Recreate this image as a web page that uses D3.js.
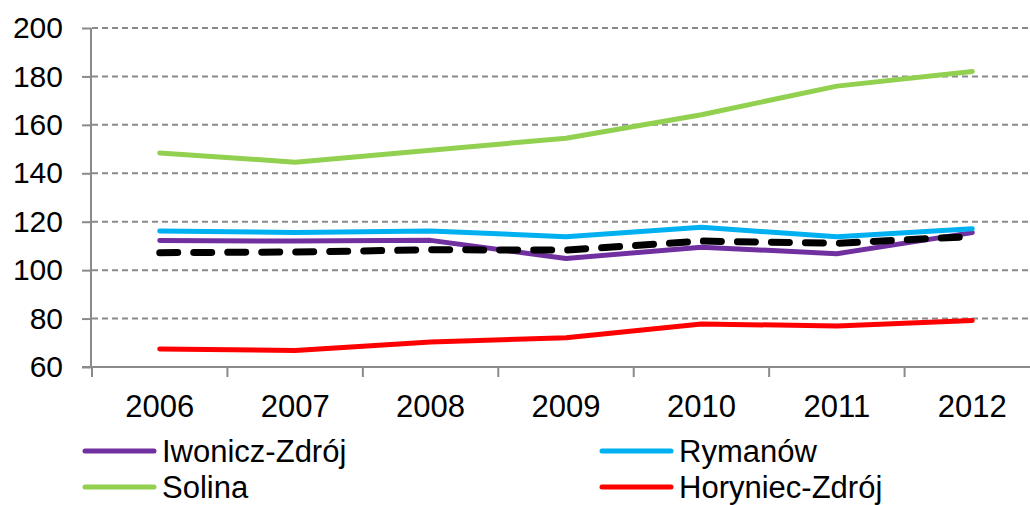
<!DOCTYPE html>
<html>
<head>
<meta charset="utf-8">
<script src="https://cdn.jsdelivr.net/npm/d3@7"></script>
<style>
  body { margin: 0; background: #fff; }
  svg { display: block; font-family: "Liberation Sans", Arial, sans-serif; }
</style>
</head>
<body>
<script>
// data
var years = ["2006", "2007", "2008", "2009", "2010", "2011", "2012"];
var iwonicz = [112.2, 112, 112.3, 104.8, 109.5, 106.8, 115.5];
var rymanow = [116.2, 115.5, 116.2, 113.8, 117.7, 113.8, 117.1];
var solina = [148.4, 144.6, 149.5, 154.5, 164.2, 176, 182];
var horyniec = [67.4, 66.8, 70.3, 72.1, 77.8, 76.9, 79.2];
var srednia = [107.2, 107.5, 108.4, 108.3, 112, 111.1, 113.9];
var yTicks = [60, 80, 100, 120, 140, 160, 180, 200];

var series = [
  {name: "Iwonicz-Zdrój", values: iwonicz, color: "#7030A0"},
  {name: "Rymanów", values: rymanow, color: "#00B0F0"},
  {name: "Solina", values: solina, color: "#92D050"},
  {name: "Horyniec-Zdrój", values: horyniec, color: "#FF0000"},
  {name: "średnia", values: srednia, color: "#000000", dashed: true}
];

var W = 1030, H = 505;
var plotL = 92, plotR = 1040, plotT = 28, plotB = 367;

var svg = d3.select("body").append("svg")
    .attr("width", W)
    .attr("height", H);

var x = d3.scaleBand().domain(years).range([plotL, plotR]).padding(0);
var y = d3.scaleLinear().domain([60, 200]).range([plotB, plotT]);

// gridlines
svg.append("g")
    .selectAll("line")
    .data(yTicks.slice(1))
    .enter()
    .append("line")
    .attr("x1", plotL)
    .attr("x2", plotR)
    .attr("y1", function(d) { return y(d); })
    .attr("y2", function(d) { return y(d); })
    .attr("stroke", "#8a8a8a")
    .attr("stroke-width", 2)
    .attr("stroke-dasharray", "6,4");

// y axis
var yAxis = svg.append("g")
    .attr("transform", "translate(" + (plotL - 1) + ",0)")
    .call(d3.axisLeft(y).tickValues(yTicks).tickSize(9).tickPadding(19));
yAxis.select(".domain").attr("stroke", "#8a8a8a").attr("stroke-width", 2)
    .attr("d", "M0," + plotT + "V" + plotB);
yAxis.selectAll(".tick line").attr("stroke", "#8a8a8a").attr("stroke-width", 2);
yAxis.selectAll(".tick text")
    .attr("font-size", "30px")
    .attr("font-family", "Liberation Sans, Arial, sans-serif")
    .attr("fill", "#000");

// x axis
var xAxis = svg.append("g")
    .attr("transform", "translate(0," + plotB + ")");
xAxis.append("line")
    .attr("x1", plotL - 10).attr("x2", plotR)
    .attr("stroke", "#8a8a8a").attr("stroke-width", 2);
xAxis.selectAll(".xt")
    .data(years)
    .enter()
    .append("line")
    .attr("class", "xt")
    .attr("x1", function(d) { return x(d); })
    .attr("x2", function(d) { return x(d); })
    .attr("y1", 0)
    .attr("y2", 10)
    .attr("stroke", "#8a8a8a").attr("stroke-width", 2);
xAxis.selectAll("text")
    .data(years)
    .enter()
    .append("text")
    .attr("x", function(d) { return x(d) + x.bandwidth() / 2; })
    .attr("y", 50)
    .attr("text-anchor", "middle")
    .attr("font-size", "31px")
    .text(function(d) { return d; });

// lines
var line = d3.line()
    .x(function(d, i) { return x(years[i]) + x.bandwidth() / 2; })
    .y(function(d) { return y(d); });

svg.append("g")
    .selectAll("path")
    .data(series)
    .enter()
    .append("path")
    .attr("d", function(s) { return line(s.values); })
    .attr("fill", "none")
    .attr("stroke", function(s) { return s.color; })
    .attr("stroke-width", function(s) { return s.dashed ? 7 : 5; })
    .attr("stroke-linecap", "round")
    .attr("stroke-linejoin", "round")
    .attr("stroke-dasharray", function(s) { return s.dashed ? "18,16" : null; });

// legend
var legendItems = series.slice(0, 4);
var legend = svg.append("g")
    .selectAll("g")
    .data(legendItems)
    .enter()
    .append("g")
    .attr("transform", function(d, i) {
        return "translate(" + (i % 2 === 0 ? 85 : 602) + "," + (i < 2 ? 451 : 487) + ")";
    });
legend.append("line")
    .attr("x1", 0).attr("x2", 69)
    .attr("stroke", function(d) { return d.color; })
    .attr("stroke-width", 5)
    .attr("stroke-linecap", "round");
legend.append("text")
    .attr("x", 77)
    .attr("y", 11)
    .attr("font-size", "31px")
    .text(function(d) { return d.name; });
</script>
</body>
</html>
